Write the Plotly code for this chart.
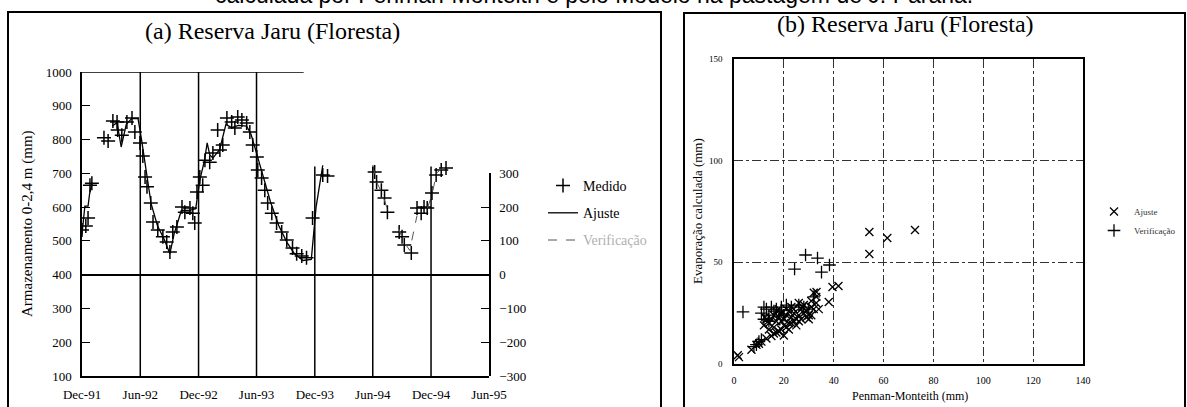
import plotly.graph_objects as go

W, H = 1187, 407
def px(x): return x / W
def py(y): return 1 - y / H

# ---------------- Panel (a) data ----------------
tick_dates = ['1991-12-01', '1992-06-01', '1992-12-01', '1993-06-01', '1993-12-01',
              '1994-06-01', '1994-12-01', '1995-06-01']
tick_labels = ['Dec-91', 'Jun-92', 'Dec-92', 'Jun-93', 'Dec-93', 'Jun-94', 'Dec-94', 'Jun-95']

medido_dates = ['1991-12-01', '1991-12-13', '1991-12-20', '1991-12-26', '1992-01-01',
                '1992-02-08', '1992-02-21', '1992-03-07', '1992-03-20', '1992-03-22',
                '1992-04-04', '1992-04-20', '1992-05-06', '1992-05-15', '1992-05-31',
                '1992-06-09', '1992-06-16', '1992-06-22', '1992-07-04', '1992-07-11',
                '1992-07-26', '1992-08-11', '1992-08-23', '1992-09-02', '1992-09-11',
                '1992-09-24', '1992-10-10', '1992-10-19', '1992-11-04', '1992-11-13',
                '1992-11-19', '1992-11-26', '1992-12-05', '1992-12-14', '1992-12-21',
                '1993-01-05', '1993-01-15', '1993-01-30', '1993-02-06', '1993-02-15',
                '1993-02-28', '1993-03-15', '1993-03-25', '1993-04-03', '1993-04-16',
                '1993-05-01', '1993-05-11', '1993-05-20', '1993-06-02', '1993-06-05',
                '1993-06-17', '1993-06-27', '1993-07-06', '1993-07-19', '1993-08-03',
                '1993-08-19', '1993-09-04', '1993-09-22', '1993-10-05', '1993-10-21',
                '1993-11-05', '1993-11-24', '1993-12-26', '1994-01-10',
                '1994-06-07', '1994-06-13', '1994-06-28', '1994-07-08', '1994-07-17',
                '1994-08-23', '1994-09-01', '1994-09-08', '1994-09-30',
                '1994-10-18', '1994-10-31', '1994-11-09', '1994-11-19', '1994-12-04',
                '1994-12-17', '1995-01-02', '1995-01-17']
medido_vals = [532, 544, 568, 665, 671,
               805, 796, 855, 852, 828,
               813, 852, 864, 822, 790,
               751, 689, 660, 612, 556,
               532, 512, 497, 467, 526,
               541, 600, 585, 597, 582,
               553, 645, 689, 665, 739,
               733, 760, 828, 769, 784,
               864, 852, 834, 867, 858,
               849, 822, 784, 748, 710,
               686, 650, 612, 582, 553,
               526, 503, 479, 462, 455,
               450, 568, 695, 692,
               704, 674, 650, 627, 585,
               526, 512, 488, 464,
               597, 582, 600, 597, 642,
               695, 710, 716]

ajuste_dates = ['1991-12-01', '1991-12-06', '1991-12-10', '1991-12-20', '1991-12-25', '1992-01-01', None,
                '1992-03-05', '1992-03-20', '1992-04-02', '1992-04-18', '1992-05-05', '1992-05-25',
                '1992-06-05', '1992-06-20', '1992-07-05', '1992-07-25', '1992-08-15', '1992-09-02',
                '1992-09-15', '1992-10-08', '1992-11-01', '1992-11-22', '1992-12-05', '1992-12-20',
                '1992-12-28', '1993-01-05', '1993-01-15', '1993-02-05', '1993-02-25', '1993-03-15',
                '1993-04-05', '1993-05-01', '1993-05-15', '1993-06-01', '1993-06-20', '1993-07-15',
                '1993-08-10', '1993-09-05', '1993-09-28', '1993-10-25', '1993-11-20', '1993-12-05',
                '1993-12-26']
ajuste_vals = [520, 560, 603, 603, 640, 670, None,
               840, 850, 778, 845, 862, 862,
               800, 700, 610, 545, 505, 462,
               520, 590, 590, 595, 680, 740,
               790, 755, 745, 770, 845, 835,
               842, 840, 815, 760, 695, 615,
               545, 495, 462, 442, 445, 600,
               724]

verif_dates = ['1994-06-01', '1994-06-12', '1994-07-01', '1994-07-18', None,
               '1994-08-20', '1994-09-05', '1994-09-25', '1994-10-05', '1994-10-18', None,
               '1994-11-20', '1994-12-05', '1994-12-18', '1995-01-01', '1995-01-20']
verif_vals = [725, 676, 640, 590, None,
              540, 500, 472, 520, 575, None,
              598, 640, 700, 712, 718]

# ---------------- Panel (b) data ----------------
aj_pm = [2, 1.5, 7, 9, 11, 13, 15, 17, 18, 16, 19, 20, 21, 22, 14, 13, 15, 16, 17, 18,
         19, 20, 21, 22, 23, 24, 25, 26, 27, 28, 29, 30, 31, 32, 33, 32, 30, 25, 24, 22,
         20, 19, 17, 18, 21, 23, 26, 28, 31, 33, 34, 27, 29, 38, 39.5, 41.9, 33.1, 54.3,
         54.3, 61.5, 72.6, 12, 14, 16, 24, 26, 31, 10, 12.5, 23, 18.5, 27.5]
aj_calc = [3.4, 4.3, 7, 9.4, 11, 12.5, 13.8, 15.5, 16, 18, 17, 19, 18, 20, 20, 22, 22, 24, 21, 23,
           25, 22, 24, 26, 23, 25, 22, 24, 27, 25, 26, 24, 28, 27, 30, 35, 22, 19, 21, 17,
           14, 21, 26, 27, 27, 28, 21, 29, 31, 33, 27, 22, 23, 30.5, 37.9, 38.4, 35.4, 54.1,
           64.9, 62.0, 65.9, 19, 17, 15, 27, 30, 24, 10, 23, 20, 25, 28]

ve_pm = [3.6, 24.3, 28.7, 33.5, 35.1, 38.3, 12, 11, 13, 14, 15, 16, 12, 10, 9, 11, 8,
         17, 19, 21, 23, 26, 28, 30, 32, 20, 14]
ve_calc = [25.6, 46.7, 53.6, 52.1, 45.2, 48.7, 28, 25, 27, 24, 28, 26, 22, 11, 9.5, 12, 8.5,
           27, 28, 29, 28, 29, 28, 27, 33, 24, 21]

SERIF = 'Liberation Serif'

fig = go.Figure()

# Panel (a)
fig.add_trace(go.Scatter(x=medido_dates, y=medido_vals, mode='markers', name='Medido',
                         marker=dict(symbol='cross-thin', size=10, color='black',
                                     line=dict(color='black', width=1.5)),
                         xaxis='x', yaxis='y', legend='legend', legendgroup='a1'))
fig.add_trace(go.Scatter(x=ajuste_dates, y=ajuste_vals, mode='lines', name='Ajuste',
                         line=dict(color='black', width=1.3), connectgaps=False,
                         xaxis='x', yaxis='y', legend='legend', legendgroup='a2'))
fig.add_trace(go.Scatter(x=verif_dates, y=verif_vals, mode='lines',
                         name="<span style='color:#b0b0b0'>Verificação</span>",
                         line=dict(color='#555555', width=1, dash='dash'), connectgaps=False,
                         xaxis='x', yaxis='y', legend='legend', legendgroup='a3'))
fig.add_trace(go.Scatter(x=[None], y=[None], showlegend=False, xaxis='x', yaxis='y3',
                         hoverinfo='skip'))

# Panel (b)
fig.add_trace(go.Scatter(x=aj_pm, y=aj_calc, mode='markers', name='Ajuste',
                         marker=dict(symbol='x-thin', size=8, color='black',
                                     line=dict(color='black', width=1.3)),
                         xaxis='x2', yaxis='y2', legend='legend2', legendgroup='b1'))
fig.add_trace(go.Scatter(x=ve_pm, y=ve_calc, mode='markers', name='Verificação',
                         marker=dict(symbol='cross-thin', size=9, color='black',
                                     line=dict(color='black', width=1.3)),
                         xaxis='x2', yaxis='y2', legend='legend2', legendgroup='b2'))

# domains
xa_dom = [px(82), px(489)]
ya_dom = [py(376), py(72)]
y3_top = ya_dom[0] + (ya_dom[1] - ya_dom[0]) * 600 / 900
xb_dom = [px(734), px(1083)]
yb_dom = [py(364), py(59)]

fig.update_layout(
    width=W, height=H, margin=dict(l=0, r=0, t=0, b=0, autoexpand=False),
    paper_bgcolor='white', plot_bgcolor='rgba(0,0,0,0)',
    font=dict(family=SERIF, color='black'),
    xaxis=dict(domain=xa_dom, type='date', range=['1991-12-01', '1995-06-01'],
               tickvals=tick_dates, ticktext=tick_labels, ticks='',
               showgrid=False, zeroline=False, showline=True, linecolor='black', linewidth=1.5,
               tickfont=dict(size=13, family=SERIF), anchor='y', ticklabelstandoff=6),
    yaxis=dict(domain=ya_dom, range=[100, 1000], dtick=100, ticks='inside', ticklen=8,
               tickcolor='black', tickwidth=1.3, showgrid=False, zeroline=False,
               showline=True, linecolor='black', linewidth=1.5, anchor='x',
               tickfont=dict(size=13, family=SERIF), ticklabelstandoff=6),
    yaxis3=dict(domain=[ya_dom[0], y3_top], range=[-300, 300], dtick=100, side='right',
                anchor='x', ticks='inside', ticklen=8, tickcolor='black', tickwidth=1.3,
                showgrid=False, zeroline=True, zerolinecolor='black', zerolinewidth=1.5,
                showline=True, linecolor='black', linewidth=1.5,
                tickfont=dict(size=13, family=SERIF), ticklabelstandoff=6),
    xaxis2=dict(domain=xb_dom, range=[0, 140], dtick=20, anchor='y2', ticks='',
                showgrid=True, gridcolor='#333333', gridwidth=1, griddash='dashdot',
                zeroline=False, showline=True, mirror=True, linecolor='black', linewidth=1.5,
                tickfont=dict(size=10, family=SERIF), ticklabelstandoff=6),
    yaxis2=dict(domain=yb_dom, range=[0, 150], dtick=50, anchor='x2', ticks='',
                showgrid=True, gridcolor='#333333', gridwidth=1, griddash='dashdot',
                zeroline=False, showline=True, mirror=True, linecolor='black', linewidth=1.5,
                tickfont=dict(size=9, family=SERIF), ticklabelstandoff=8),
    legend=dict(x=px(543), y=py(170), xanchor='left', yanchor='top',
                bgcolor='rgba(0,0,0,0)', font=dict(size=14, family=SERIF),
                traceorder='grouped', tracegroupgap=6, itemwidth=30),
    legend2=dict(x=px(1094), y=py(197), xanchor='left', yanchor='top',
                 bgcolor='rgba(0,0,0,0)', font=dict(size=9, family=SERIF, color='#333333'),
                 traceorder='grouped', tracegroupgap=0, itemwidth=30),
    showlegend=True,
)

# frames and partial grid (panel a)
shapes = [
    dict(type='rect', xref='paper', yref='paper', x0=px(8), x1=px(661), y0=-0.1, y1=py(12),
         line=dict(color='black', width=2)),
    dict(type='rect', xref='paper', yref='paper', x0=px(684), x1=px(1185), y0=-0.1, y1=py(13),
         line=dict(color='black', width=2)),
    dict(type='line', xref='x', yref='y', x0=tick_dates[0], x1='1993-10-27', y0=1000, y1=1000,
         line=dict(color='black', width=1.5)),
]
grid_tops = [1000, 1000, 1000, 720, 720, 720]
for d, top in zip(tick_dates[1:7], grid_tops):
    shapes.append(dict(type='line', xref='x', yref='y', x0=d, x1=d, y0=100, y1=top,
                       line=dict(color='black', width=1.5)))
fig.update_layout(shapes=shapes)

ann = [
    dict(text='calculada por Penman-Monteith e pelo Modelo na pastagem de J. Paraná.',
         x=px(594), y=py(10), xanchor='center', yanchor='bottom',
         font=dict(family='Liberation Sans', size=23)),
    dict(text='(a) Reserva Jaru (Floresta)', x=px(272), y=py(31), xanchor='center',
         yanchor='middle', font=dict(family=SERIF, size=24)),
    dict(text='(b) Reserva Jaru (Floresta)', x=px(905), y=py(24), xanchor='center',
         yanchor='middle', font=dict(family=SERIF, size=24)),
    dict(text='Armazenamento 0-2,4 m (mm)', x=px(27), y=py(224), textangle=-90,
         xanchor='center', yanchor='middle', font=dict(family=SERIF, size=15)),
    dict(text='Penman-Monteith (mm)', x=px(910), y=py(396), xanchor='center',
         yanchor='middle', font=dict(family=SERIF, size=12)),
    dict(text='Evaporação calculada (mm)', x=px(697), y=py(211), textangle=-90,
         xanchor='center', yanchor='middle', font=dict(family=SERIF, size=13)),
]
for a in ann:
    a.update(xref='paper', yref='paper', showarrow=False)
fig.update_layout(annotations=ann)

fig.write_html('out.html', config={'displayModeBar': False},
               post_script="document.body.style.margin='0';document.body.style.overflow='hidden';")
